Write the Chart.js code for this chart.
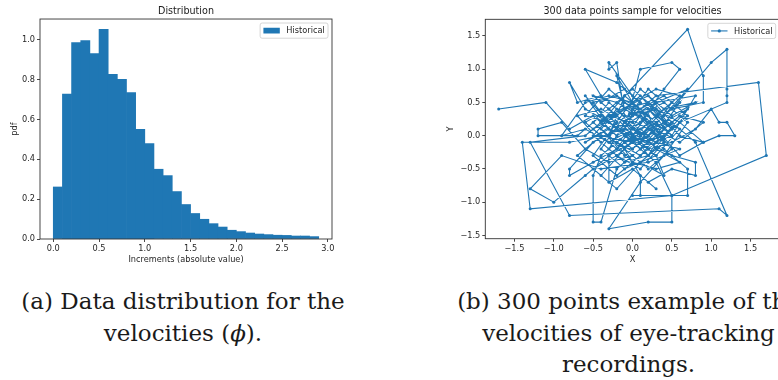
<!DOCTYPE html>
<html>
<head>
<meta charset="utf-8">
<script src="https://cdn.jsdelivr.net/npm/chart.js@4.4.1/dist/chart.umd.min.js"></script>
<style>
  body { margin: 0; width: 778px; height: 380px; overflow: hidden; background: #fff; position: relative; }
  canvas { position: absolute; top: 0; }
  #histChart { left: 0; }
  #pathChart { left: 400px; }
  .cap { position: absolute; font-family: "DejaVu Serif", serif; font-size: 23px; line-height: 22px; color: #1a1a1a; white-space: nowrap; text-align: center; }
  .capA { left: 0; width: 366px; }
  .capB { left: 428px; width: 401px; }
</style>
</head>
<body>
<canvas id="histChart" width="340" height="270"></canvas>
<canvas id="pathChart" width="390" height="270"></canvas>

<div class="cap capA" style="top:290px;">(a) Data distribution for the</div>
<div class="cap capA" style="top:322px;">velocities (<i>ϕ</i>).</div>
<div class="cap capB" style="top:290px;">(b) 300 points example of the</div>
<div class="cap capB" style="top:322px;">velocities of eye-tracking</div>
<div class="cap capB" style="top:353px;">recordings.</div>

<script>
// histogram of absolute increments (bins of 0.1)
const binLeft = [0.0, 0.1, 0.2, 0.3, 0.4, 0.5, 0.6, 0.7, 0.8, 0.9,
                 1.0, 1.1, 1.2, 1.3, 1.4, 1.5, 1.6, 1.7, 1.8, 1.9,
                 2.0, 2.1, 2.2, 2.3, 2.4, 2.5, 2.6, 2.7, 2.8];
const binWidth = 0.1;
const pdfValues = [0.261, 0.727, 0.985, 0.995, 0.93, 1.052, 0.826, 0.801, 0.734, 0.55,
                   0.479, 0.35, 0.318, 0.238, 0.173, 0.128, 0.099, 0.077, 0.06, 0.044,
                   0.037, 0.03, 0.025, 0.022, 0.019, 0.018, 0.015, 0.015, 0.012];

const incTicks = [0, 0.5, 1.0, 1.5, 2.0, 2.5, 3.0];
const incTickLabels = ["0.0", "0.5", "1.0", "1.5", "2.0", "2.5", "3.0"];
const pdfTicks = [0, 0.2, 0.4, 0.6, 0.8, 1.0];
const pdfTickLabels = ["0.0", "0.2", "0.4", "0.6", "0.8", "1.0"];

// 300 consecutive (x, y) velocity samples
const velocityPath = [
  [-1.7,0.4],[-1.1,0.5],[-0.8,0.1],[-0.5,0.3],[-0.2,0.0],[0.1,0.2],[-0.3,-0.2],[0.0,0.4],[0.3,0.1],[-0.1,-0.3],
  [-0.4,0.1],[-0.1,0.5],[0.2,0.3],[0.4,-0.1],[0.1,-0.4],[-0.2,-0.1],[-0.5,0.2],[-0.3,0.5],[0.0,0.2],[0.3,-0.2],
  [-0.6,0.4],[-0.8,0.8],[-0.7,0.5],[-0.4,0.6],[-0.6,1.0],[-0.2,0.8],[0.1,0.5],[-0.1,0.1],[0.2,-0.1],[0.5,0.2],
  [0.2,0.6],[-0.3,0.3],[0.0,-0.1],[0.4,0.3],[0.7,0.7],[0.3,0.5],[0.0,0.0],[-0.3,0.1],[-0.6,-0.1],[-0.2,0.2],
  [0.1,-0.2],[0.5,0.0],[0.2,0.4],[-0.1,0.3],[-0.4,-0.2],[-0.1,-0.5],[0.3,-0.3],[0.6,0.1],[0.3,0.3],[0.0,0.6],
  [-0.3,1.1],[-0.3,1.0],[-0.2,1.1],[-0.1,0.3],[0.2,0.1],[-0.2,-0.3],[-0.5,0.0],[-0.2,0.4],[0.1,0.0],[0.4,0.4],
  [0.8,0.5],[0.5,0.3],[0.1,0.7],[-0.2,0.2],[-0.5,-0.3],[-0.2,-0.6],[0.1,-0.3],[0.4,0.1],[0.1,0.3],[-0.3,0.0],
  [-0.1,0.6],[0.7,1.6],[0.9,0.9],[0.9,0.5],[0.5,0.4],[1.0,1.1],[1.2,1.3],[1.2,0.7],[1.2,0.6],[1.2,0.5],
  [0.6,0.2],[0.3,-0.1],[0.0,0.1],[-0.3,0.4],[-0.6,0.2],[-0.3,-0.1],[0.0,-0.2],[0.3,0.2],[0.6,0.5],[0.3,0.0],
  [0.0,-0.3],[-0.3,-0.4],[-0.6,-0.2],[-0.9,0.2],[-1.2,0.1],[-1.2,0.0],[-0.7,0.0],[-0.4,0.3],[-0.1,0.0],[0.2,-0.2],
  [0.5,-0.1],[0.8,0.1],[1.0,0.4],[1.1,0.2],[1.2,0.2],[1.3,0.0],[1.1,0.0],[0.9,-0.1],[0.6,0.0],[0.3,0.4],
  [0.0,0.3],[-0.3,0.2],[-0.5,0.5],[-0.2,0.6],[0.1,0.4],[0.4,0.6],[0.7,0.3],[0.4,0.0],[0.1,-0.1],[-0.2,0.1],
  [-0.5,-0.1],[-0.8,-0.5],[-0.8,-0.6],[-0.5,-0.4],[-0.2,-0.2],[0.1,0.1],[0.4,-0.2],[0.7,-0.5],[0.7,-0.9],[0.0,-0.9],
  [0.1,-0.9],[0.1,-0.6],[-0.1,-0.2],[0.2,0.2],[0.5,0.5],[0.2,0.0],[-0.1,-0.1],[-0.4,0.2],[-0.1,0.4],[0.2,0.5],
  [0.5,0.1],[0.2,-0.3],[-0.1,-0.4],[-0.4,-0.1],[-0.7,0.3],[-0.4,0.4],[-0.1,0.2],[0.2,-0.1],[0.5,-0.3],[0.8,-0.4],
  [0.8,-0.6],[0.5,-0.5],[0.2,-0.7],[0.3,-0.8],[0.0,-0.5],[-0.3,-0.7],[-0.3,-0.3],[0.0,0.0],[0.3,0.3],[0.6,0.6],
  [0.3,0.7],[0.0,0.5],[-0.3,0.6],[-0.6,0.5],[-0.9,0.0],[-0.6,0.1],[-0.3,-0.1],[0.0,0.1],[0.3,-0.1],[0.6,-0.2],
  [0.2,-0.4],[-0.4,-0.5],[-0.9,-0.3],[-1.3,-0.8],[-1.0,-1.0],[-0.6,-0.6],[-0.3,-0.3],[0.0,-0.1],[-0.4,0.0],[-0.8,-0.1],
  [-1.4,-0.1],[-1.3,-1.1],[0.5,-0.9],[1.7,-0.3],[1.6,0.8],[0.3,0.6],[0.0,0.3],[-0.3,0.0],[0.0,-0.4],[0.3,-0.5],
  [0.6,-0.4],[0.3,-0.2],[0.0,0.2],[-0.3,0.3],[-0.6,0.0],[-1.3,-0.1],[-0.8,-1.2],[1.1,-1.1],[1.2,-1.2],[0.8,-0.1],
  [0.5,0.2],[0.2,0.0],[-0.1,0.2],[-0.4,0.5],[-0.1,0.7],[0.2,0.4],[0.5,0.1],[0.2,-0.2],[-0.1,0.0],[-0.4,-0.3],
  [-0.5,-0.6],[-0.5,-1.3],[-0.4,-1.3],[-0.2,-0.5],[0.1,-0.2],[0.4,0.2],[0.1,0.6],[-0.2,0.3],[-0.5,0.1],[-0.2,-0.2],
  [0.1,0.3],[0.4,0.5],[0.7,0.2],[0.4,-0.3],[0.1,-0.7],[-0.3,-1.4],[0.2,-1.3],[0.5,-1.3],[0.5,-0.9],[0.3,-0.4],
  [0.0,-0.1],[-0.3,0.2],[-0.6,0.3],[-0.3,0.7],[0.0,0.4],[0.3,0.0],[0.6,0.3],[0.9,0.2],[0.6,-0.1],[0.3,0.1],
  [0.0,0.5],[-0.2,0.9],[-0.1,0.4],[0.2,0.2],[0.5,-0.2],[0.2,-0.5],[-0.1,-0.2],[-0.4,-0.6],[-0.7,-0.3],[-0.4,0.0],
  [-0.1,0.1],[0.1,1.0],[0.5,1.1],[0.6,1.0],[0.4,0.7],[0.1,0.2],[-0.2,-0.1],[0.1,-0.3],[0.4,0.0],[0.7,0.4],
  [0.4,0.2],[0.1,0.0],[-0.2,0.3],[-0.5,0.6],[-0.2,0.5],[0.1,0.3],[0.4,-0.1],[0.1,-0.5],[-0.2,-0.3],[-0.5,-0.5],
  [-0.2,-0.8],[0.1,-0.4],[0.4,-0.6],[0.3,-0.3],[0.0,0.0],[-0.3,0.4],[0.0,0.7],[0.3,0.4],[0.6,0.2],[0.9,-0.1],
  [0.6,-0.3],[0.3,0.1],[0.0,-0.2],[-0.3,0.1],[-0.6,0.6],[-0.3,0.2],[0.0,0.3],[0.3,0.5],[0.8,0.6],[0.5,0.0],
  [0.2,0.3],[-0.1,0.6],[-0.4,0.2],[-0.1,-0.1],[0.2,0.1],[0.5,0.4],[0.2,0.7],[-0.1,0.2],[0.2,-0.3],[0.4,0.1]
];
const velTicks = [-1.5, -1.0, -0.5, 0, 0.5, 1.0, 1.5];
const velTickLabels = ["\u22121.5", "\u22121.0", "\u22120.5", "0.0", "0.5", "1.0", "1.5"];

const BLUE = "#1f77b4";
const FS = 8.2;

Chart.defaults.font.family = "'DejaVu Sans', sans-serif";
Chart.defaults.font.size = FS;
Chart.defaults.color = "#262626";

// full box around the plot area, like matplotlib spines
const frameBox = {
  id: "frameBox",
  afterDatasetsDraw(chart) {
    const { ctx, chartArea: a } = chart;
    ctx.save();
    ctx.strokeStyle = "#333";
    ctx.lineWidth = 0.9;
    ctx.strokeRect(a.left, a.top, a.right - a.left, a.bottom - a.top);
    ctx.restore();
  }
};

// small framed legend in the upper right corner
const boxLegend = {
  id: "boxLegend",
  afterDraw(chart, args, opts) {
    const { ctx, chartArea: a } = chart;
    ctx.save();
    ctx.font = FS + "px 'DejaVu Sans'";
    const tw = ctx.measureText(opts.label).width;
    const pad = 0.4 * FS, hl = 2 * FS, gap = 0.8 * FS;
    const w = pad + hl + gap + tw + pad;
    const h = 15.2;
    const x0 = a.right - 4 - w;
    const y0 = a.top + 4;
    ctx.fillStyle = "rgba(255,255,255,0.8)";
    ctx.strokeStyle = "#cccccc";
    ctx.lineWidth = 0.8;
    ctx.beginPath();
    ctx.roundRect(x0, y0, w, h, 2);
    ctx.fill();
    ctx.stroke();
    const cy = y0 + h / 2;
    const hx = x0 + pad;
    ctx.fillStyle = BLUE;
    ctx.strokeStyle = BLUE;
    if (opts.kind === "patch") {
      ctx.fillRect(hx, cy - 0.35 * FS, hl, 0.7 * FS);
    } else {
      ctx.lineWidth = 1.1;
      ctx.beginPath();
      ctx.moveTo(hx, cy);
      ctx.lineTo(hx + hl, cy);
      ctx.stroke();
      ctx.beginPath();
      ctx.arc(hx + hl / 2, cy, 1.6, 0, Math.PI * 2);
      ctx.fill();
    }
    ctx.fillStyle = "#262626";
    ctx.textBaseline = "middle";
    ctx.fillText(opts.label, hx + hl + gap, cy + 0.5);
    ctx.restore();
  }
};

function fixedTicks(values, labels) {
  return {
    afterBuildTicks(scale) { scale.ticks = values.map(v => ({ value: v })); },
    ticks: { callback: (v, i) => labels[i] }
  };
}

function axisStyle(extra) {
  return Object.assign({
    type: "linear",
    offset: false,
    grid: { display: true, offset: false, drawOnChartArea: false, drawTicks: true, tickLength: 3, tickColor: "#333", lineWidth: 0.9 },
    border: { display: false }
  }, extra);
}

function titleStyle(text, bottomPad) {
  return {
    display: true, text, fullSize: false, color: "#1a1a1a",
    font: { size: 9.6, weight: "normal" },
    padding: { top: 5.3, bottom: bottomPad }
  };
}

// ---- left: histogram ----
const incFixed = fixedTicks(incTicks, incTickLabels);
const pdfFixed = fixedTicks(pdfTicks, pdfTickLabels);

new Chart(document.getElementById("histChart"), {
  type: "bar",
  data: {
    datasets: [{
      label: "Historical",
      data: binLeft.map((b, i) => ({ x: b + binWidth / 2, y: pdfValues[i] })),
      backgroundColor: BLUE,
      borderWidth: 0,
      barPercentage: 1,
      categoryPercentage: 1
    }]
  },
  options: {
    responsive: false,
    animation: false,
    layout: { padding: { left: 0, right: 8, top: 0, bottom: 0 } },
    plugins: {
      legend: { display: false },
      tooltip: { enabled: false },
      title: titleStyle("Distribution", 2.2),
      boxLegend: { label: "Historical", kind: "patch" }
    },
    scales: {
      x: axisStyle({
        min: -0.145, max: 3.045,
        afterBuildTicks: incFixed.afterBuildTicks,
        afterFit(s) { s.height = 31; },
        ticks: { callback: incFixed.ticks.callback, padding: 2, maxRotation: 0 },
        title: { display: true, text: "Increments (absolute value)", padding: { top: 0, bottom: 5.3 } }
      }),
      y: axisStyle({
        min: 0, max: 1.1035,
        afterBuildTicks: pdfFixed.afterBuildTicks,
        afterFit(s) { s.width = 40; },
        ticks: { callback: pdfFixed.ticks.callback, padding: 2 },
        title: { display: true, text: "pdf", padding: { top: 10, bottom: 0 } }
      })
    }
  },
  plugins: [frameBox, boxLegend]
});

// ---- right: velocity trajectory ----
const velXFixed = fixedTicks(velTicks, velTickLabels);
const velYFixed = fixedTicks(velTicks, velTickLabels);

new Chart(document.getElementById("pathChart"), {
  type: "scatter",
  data: {
    datasets: [{
      label: "Historical",
      data: velocityPath.map(p => ({ x: p[0], y: p[1] })),
      showLine: true,
      borderColor: BLUE,
      borderWidth: 1.1,
      pointRadius: 1.5,
      pointBackgroundColor: BLUE,
      pointBorderWidth: 0
    }]
  },
  options: {
    responsive: false,
    animation: false,
    layout: { padding: { left: 0, right: 10.3, top: 0, bottom: 0 } },
    plugins: {
      legend: { display: false },
      tooltip: { enabled: false },
      title: titleStyle("300 data points sample for velocities", 2.5),
      boxLegend: { label: "Historical", kind: "line" }
    },
    scales: {
      x: axisStyle({
        position: "bottom",
        min: -1.87, max: 1.87,
        afterBuildTicks: velXFixed.afterBuildTicks,
        afterFit(s) { s.height = 31.3; },
        ticks: { callback: velXFixed.ticks.callback, padding: 2, maxRotation: 0 },
        title: { display: true, text: "X", padding: { top: 0, bottom: 5.6 } }
      }),
      y: axisStyle({
        position: "left",
        min: -1.55, max: 1.75,
        afterBuildTicks: velYFixed.afterBuildTicks,
        afterFit(s) { s.width = 85.3; },
        ticks: { callback: velYFixed.ticks.callback, padding: 2 },
        title: { display: true, text: "Y", padding: { top: 45.9, bottom: 0 } }
      })
    }
  },
  plugins: [frameBox, boxLegend]
});
</script>
</body>
</html>
